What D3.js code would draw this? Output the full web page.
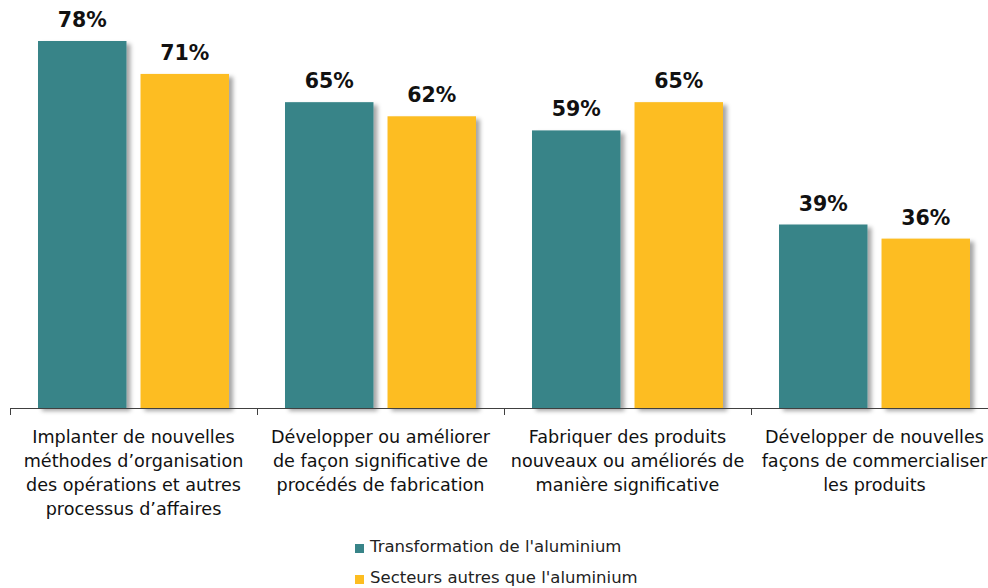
<!DOCTYPE html>
<html>
<head>
<meta charset="utf-8">
<script src="https://cdn.jsdelivr.net/npm/d3@7"></script>
<style>
  html, body { margin: 0; padding: 0; background: #fff; }
  svg { display: block; }
</style>
</head>
<body>
<svg id="chart" width="988" height="588"></svg>
<script>
// Category labels (one array of lines per category)
const categories = [
  ["Implanter de nouvelles", "méthodes d\u2019organisation", "des opérations et autres", "processus d\u2019affaires"],
  ["Développer ou améliorer", "de façon significative de", "procédés de fabrication"],
  ["Fabriquer des produits", "nouveaux ou améliorés de", "manière significative"],
  ["Développer de nouvelles", "façons de commercialiser", "les produits"]
];
const seriesNames = ["Transformation de l'aluminium", "Secteurs autres que l'aluminium"];
const aluminium = [78, 65, 59, 39];
const autres = [71, 62, 65, 36];
const colors = ["#388488", "#FDBD20"];

const svg = d3.select("#chart");
const font = "'DejaVu Sans', Verdana, sans-serif";

const defs = svg.append("defs");
const f = defs.append("filter").attr("id", "shadow")
  .attr("x", "-10%").attr("y", "-10%").attr("width", "130%").attr("height", "130%");
f.append("feDropShadow").attr("dx", 4).attr("dy", 3).attr("stdDeviation", 2.2)
  .attr("flood-color", "#000").attr("flood-opacity", 0.35);

const baseY = 408;
const y = d3.scaleLinear().domain([0, 78]).range([baseY, 41]);
const catIdx = d3.range(categories.length);
const x0 = d3.scaleBand().domain(catIdx).range([10, 998]).padding(0);
const x1 = d3.scaleBand().domain([0, 1]).range([28, 219]).paddingInner(0.137).paddingOuter(0);

const data = catIdx.map(i => [aluminium[i], autres[i]]);

const groups = svg.append("g").selectAll("g").data(data).join("g")
  .attr("transform", (d, i) => `translate(${x0(i)},0)`);

groups.selectAll("rect").data(d => d).join("rect")
  .attr("x", (d, j) => x1(j))
  .attr("width", x1.bandwidth())
  .attr("y", d => y(d))
  .attr("height", d => baseY - y(d))
  .attr("fill", (d, j) => colors[j])
  .attr("filter", "url(#shadow)");

groups.selectAll("text.val").data(d => d).join("text")
  .attr("class", "val")
  .attr("x", (d, j) => x1(j) + x1.bandwidth() / 2)
  .attr("y", d => y(d) - 14)
  .attr("text-anchor", "middle")
  .attr("font-family", font)
  .attr("font-weight", "bold")
  .attr("font-size", 20.5)
  .attr("fill", "#111")
  .text(d => d + "%");

// Category axis
const axis = svg.append("g");
axis.append("line")
  .attr("x1", 10).attr("x2", 988).attr("y1", baseY + 0.5).attr("y2", baseY + 0.5)
  .attr("stroke", "#404040").attr("stroke-width", 1);
axis.selectAll("line.tick").data(catIdx).join("line")
  .attr("class", "tick")
  .attr("x1", i => x0(i) + 0.5).attr("x2", i => x0(i) + 0.5)
  .attr("y1", baseY).attr("y2", baseY + 7)
  .attr("stroke", "#404040");

const labels = svg.append("g").selectAll("text").data(categories).join("text")
  .attr("text-anchor", "middle")
  .attr("font-family", font)
  .attr("font-size", 17.6)
  .attr("fill", "#111");
labels.each(function (lines, i) {
  d3.select(this).selectAll("tspan").data(lines).join("tspan")
    .attr("x", x0(i) + x0.bandwidth() / 2)
    .attr("y", (d, k) => 443 + k * 24)
    .text(d => d);
});

// Legend
const legend = svg.append("g").selectAll("g").data(seriesNames).join("g")
  .attr("transform", (d, i) => `translate(355,${552 + i * 31})`);
legend.append("rect").attr("x", 0).attr("y", -8).attr("width", 9).attr("height", 9)
  .attr("fill", (d, i) => colors[i]);
legend.append("text").attr("x", 15).attr("y", 0)
  .attr("font-family", font).attr("font-size", 16.5).attr("fill", "#222")
  .text(d => d);
</script>
</body>
</html>
